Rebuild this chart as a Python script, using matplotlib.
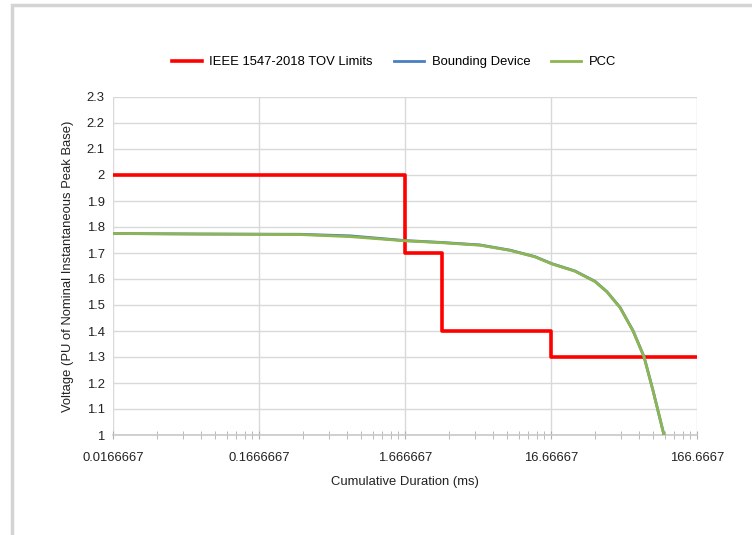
import matplotlib.pyplot as plt
from matplotlib.patches import Rectangle
from matplotlib.ticker import FixedLocator, LogLocator, NullFormatter

plt.rcParams['font.family'] = ['Liberation Sans', 'DejaVu Sans']

# IEEE 1547-2018 TOV limit steps (ms, pu)
limit_t = [0.0166667, 1.666667, 1.666667, 3.0, 3.0, 16.66667, 16.66667, 166.6667]
limit_v = [2.0, 2.0, 1.7, 1.7, 1.4, 1.4, 1.3, 1.3]

pcc_t = [0.0166667, 0.0657, 0.318, 0.70, 1.65, 2.9, 5.44, 8.73, 12.95, 16.9,
         24.3, 33.4, 40.3, 49.5, 60.8, 72.3, 83.3, 99.0]
pcc_v = [1.775, 1.773, 1.771, 1.763, 1.747, 1.740, 1.730, 1.710, 1.685, 1.658,
         1.630, 1.590, 1.550, 1.490, 1.400, 1.300, 1.170, 1.0]
bd_t = pcc_t
bd_v = [1.775, 1.773, 1.772, 1.766, 1.748, 1.741, 1.731, 1.711, 1.686, 1.659,
        1.631, 1.591, 1.551, 1.491, 1.401, 1.301, 1.171, 1.0]

x_ticks = [0.0166667, 0.1666667, 1.666667, 16.66667, 166.6667]
x_labels = ['0.0166667', '0.1666667', '1.666667', '16.66667', '166.6667']
y_ticks = [1.0, 1.1, 1.2, 1.3, 1.4, 1.5, 1.6, 1.7, 1.8, 1.9, 2.0, 2.1, 2.2, 2.3]

fig = plt.figure(figsize=(7.52, 5.35), dpi=100)
ax = fig.add_axes([113 / 752, 1 - 435 / 535, (697 - 113) / 752, (435 - 97) / 535])

# outer chart frame
fig.patches.append(Rectangle((12 / 752, -0.1), 1.2, 1 - 5 / 535 + 0.1, transform=fig.transFigure,
                             fill=False, edgecolor='#d4d4d4', linewidth=2.5))

ax.plot(limit_t, limit_v, color='#ff0000', linewidth=2.6, label='IEEE 1547-2018 TOV Limits', zorder=3)
ax.plot(bd_t, bd_v, color='#4a7fc1', linewidth=2, label='Bounding Device', zorder=4)
ax.plot(pcc_t, pcc_v, color='#8db650', linewidth=2, label='PCC', zorder=5)

ax.set_xscale('log')
ax.set_xlim(0.0166667, 166.6667)
ax.set_ylim(1.0, 2.3)
ax.xaxis.set_major_locator(FixedLocator(x_ticks))
ax.set_xticklabels(x_labels)
ax.xaxis.set_minor_locator(LogLocator(base=10, subs=[x * 1.666667 for x in range(2, 10)], numticks=20))
ax.xaxis.set_minor_formatter(NullFormatter())
ax.set_yticks(y_ticks)
ax.set_yticklabels(['%g' % v for v in y_ticks])

ax.grid(True, which='major', color='#d9d9d9', linewidth=1)
ax.set_axisbelow(True)
for side in ['left', 'right', 'top']:
    ax.spines[side].set_visible(False)
ax.spines['bottom'].set_color('#c8c8c8')
ax.spines['bottom'].set_linewidth(1.2)
ax.tick_params(axis='x', which='both', direction='inout', color='#b0b0b0', length=6,
               labelsize=9.4, pad=9, labelcolor='#222222')
ax.tick_params(axis='y', length=0, labelsize=9.4, pad=6, labelcolor='#222222')

ax.set_xlabel('Cumulative Duration (ms)', fontsize=9.4, color='#222222', labelpad=9)
ax.set_ylabel('Voltage (PU of Nominal Instantaneous Peak Base)', fontsize=9.4, color='#222222', labelpad=9)

ax.legend(loc='center', bbox_to_anchor=(394 / 752, 1 - 62 / 535), bbox_transform=fig.transFigure,
          ncol=3, frameon=False, fontsize=9.4, handlelength=2.3, columnspacing=1.6, handletextpad=0.6)

plt.savefig('out.png', dpi=100)
